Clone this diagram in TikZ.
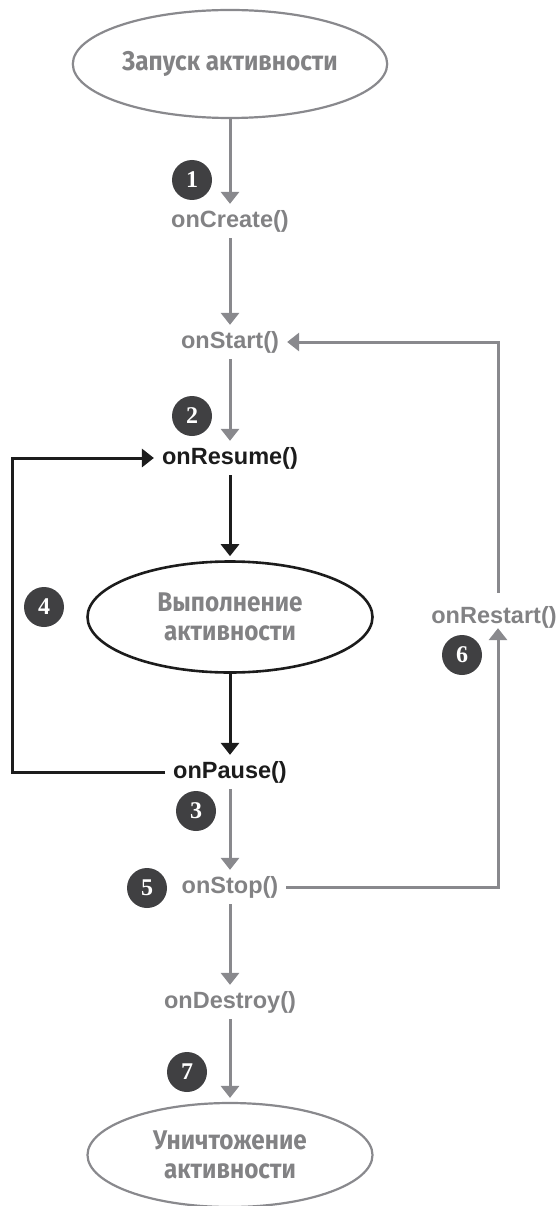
\documentclass[tikz,border=0pt]{standalone}
\usepackage{fontspec}
\setmainfont{Liberation Sans}
\newfontfamily\handfont[FakeStretch=0.9]{Fira Sans}
\newfontfamily\numfont{Liberation Serif}
\usetikzlibrary{positioning,shapes.geometric,arrows.meta}
\definecolor{LineGray}{RGB}{137,137,141}
\definecolor{TextGray}{RGB}{130,130,132}
\definecolor{BadgeGray}{RGB}{64,64,66}
\definecolor{LoopBlack}{RGB}{28,28,28}

\begin{document}
\begin{tikzpicture}[
        x=1pt, y=-1pt,
        state/.style={
            ellipse,
            draw=LineGray,
            line width=2.2pt,
            minimum width=285pt,
            minimum height=108pt,
            text=TextGray,
            align=center,
            font=\handfont\bfseries\fontsize{27}{29}\selectfont
        },
        runstate/.style={
            state,
            draw=LoopBlack,
            line width=2.6pt
        },
        call/.style={
            text=TextGray,
            inner xsep=8pt,
            inner ysep=6pt,
            font=\bfseries\fontsize{23.5}{28}\selectfont
        },
        maincall/.style={
            call,
            text=LoopBlack
        },
        badge/.style={
            circle,
            fill=BadgeGray,
            text=white,
            minimum size=40pt,
            inner sep=0pt,
            font=\numfont\bfseries\fontsize{24}{24}\selectfont
        },
        flow/.style={
            draw=LineGray,
            line width=3pt,
            -{Triangle[width=18pt,length=12pt]}
        },
        backflow/.style={
            flow,
            draw=LoopBlack
        }
    ]
        \useasboundingbox (0,0) rectangle (558,1206);

        % main column
        \node[state] (launch) at (230,64) {Запуск активности};
        \node[call] (create) at (230,221) {onCreate()};
        \node[call] (start) at (230,342) {onStart()};
        \node[maincall] (resume) at (230,458) {onResume()};
        \node[runstate, minimum height=111pt] (run) at (230,617) {Выполнение\\активности};
        \node[maincall] (pause) at (230,772) {onPause()};
        \node[call] (stop) at (230,887) {onStop()};
        \node[call] (destroy) at (230,1002) {onDestroy()};
        \node[state, minimum height=104pt] (finish) at (230,1155) {Уничтожение\\активности};
        \node[call] (restart) at (494,617) {onRestart()};
        \coordinate (loopx) at (12,617);

        % numbered badges
        \node[badge] (b1) at (192,180) {1};
        \node[badge] (b2) at (192,416) {2};
        \node[badge] (b3) at (196,811) {3};
        \node[badge] (b4) at (44,607) {4};
        \node[badge] (b5) at (147,888) {5};
        \node[badge] (b6) at (462,655) {6};
        \node[badge] (b7) at (187,1072) {7};

        % connectors
        \draw[flow] (launch) -- (create);
        \draw[flow] (create) -- (start);
        \draw[flow] (start) -- (resume);
        \draw[backflow, shorten >=4pt] (resume) -- (run);
        \draw[backflow] (run) -- (pause);
        \draw[flow] (pause) -- (stop);
        \draw[flow] (stop) -- (destroy);
        \draw[flow, shorten >=4pt] (destroy) -- (finish);
        \draw[backflow] (pause.west) -| (loopx) |- (resume.west);
        \draw[flow] (stop.east) -| ([xshift=4pt,yshift=6pt]restart.south);
        \draw[flow] ([xshift=4pt,yshift=7pt]restart.north) |- (start.east);
    \end{tikzpicture}
\end{document}
